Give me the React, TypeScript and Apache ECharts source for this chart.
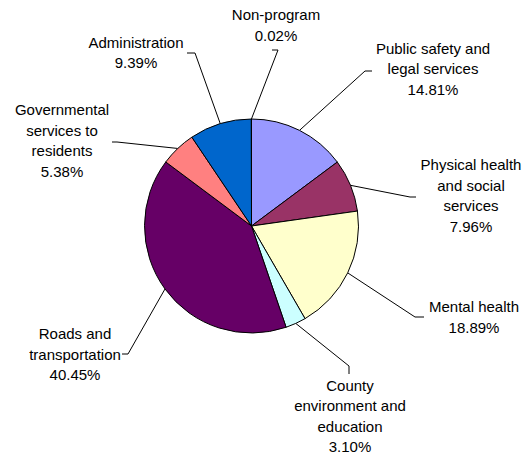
import React, { useEffect, useRef } from "react";
import * as echarts from "echarts";

const categories = [
  "Public safety and\nlegal services",
  "Physical health\nand social\nservices",
  "Mental health",
  "County\nenvironment and\neducation",
  "Roads and\ntransportation",
  "Governmental\nservices to\nresidents",
  "Administration",
  "Non-program",
];
const shares = [14.81, 7.96, 18.89, 3.1, 40.45, 5.38, 9.39, 0.02];
const colors = ["#9999FF", "#993366", "#FFFFCC", "#CCFFFF", "#660066", "#FF8080", "#0066CC", "#CCCCFF"];

// label layout: [textCenterX, textCenterY, bendX, bendY, endX, endY]
const labelPos: number[][] = [
  [433, 68.5, 365, 71, 372, 71],
  [471, 195.5, 410, 197, 416, 197],
  [474, 317, 415, 317, 424, 317],
  [350, 416, 349, 366, 349, 374],
  [75, 354, 128, 354, 122, 354],
  [62, 140.5, 117, 142, 112, 142],
  [136, 52.5, 195, 53, 187, 53],
  [276, 25, 278, 50, 272, 50],
];

export default function App() {
  const ref = useRef<HTMLDivElement>(null);
  useEffect(() => {
    if (!ref.current) return;
    const chart = echarts.init(ref.current, null, { renderer: "svg" });
    chart.setOption({
      animation: false,
      backgroundColor: "#ffffff",
      series: [
        {
          type: "pie",
          center: [251.5, 226],
          radius: [0, 107],
          startAngle: 90,
          clockwise: true,
          avoidLabelOverlap: false,
          minShowLabelAngle: 0,
          data: categories.map((name, i) => ({
            name,
            value: shares[i],
            itemStyle: { color: colors[i] },
          })),
          itemStyle: { borderColor: "#000000", borderWidth: 1 },
          label: {
            show: true,
            position: "outside",
            formatter: (p: any) => `${p.name}\n${Number(p.value).toFixed(2)}%`,
            fontFamily: "Liberation Sans, Arial, sans-serif",
            fontSize: 15,
            lineHeight: 20.5,
            color: "#000000",
            align: "center",
          },
          labelLine: {
            show: true,
            length: 20,
            length2: 10,
            lineStyle: { color: "#000000", width: 1 },
          },
          labelLayout: (params: any) => {
            const lp = labelPos[params.dataIndex];
            const pts = params.labelLinePoints;
            const start = pts && pts[0] ? pts[0] : [lp[2], lp[3]];
            return {
              x: lp[0],
              y: lp[1],
              align: "center",
              verticalAlign: "middle",
              labelLinePoints: [
                [start[0], start[1]],
                [lp[2], lp[3]],
                [lp[4], lp[5]],
              ],
            };
          },
          emphasis: { disabled: true },
        },
      ],
    });
    return () => chart.dispose();
  }, []);
  return (
    <div
      ref={ref}
      style={{ position: "absolute", left: 0, top: 0, width: 528, height: 455 }}
    />
  );
}
